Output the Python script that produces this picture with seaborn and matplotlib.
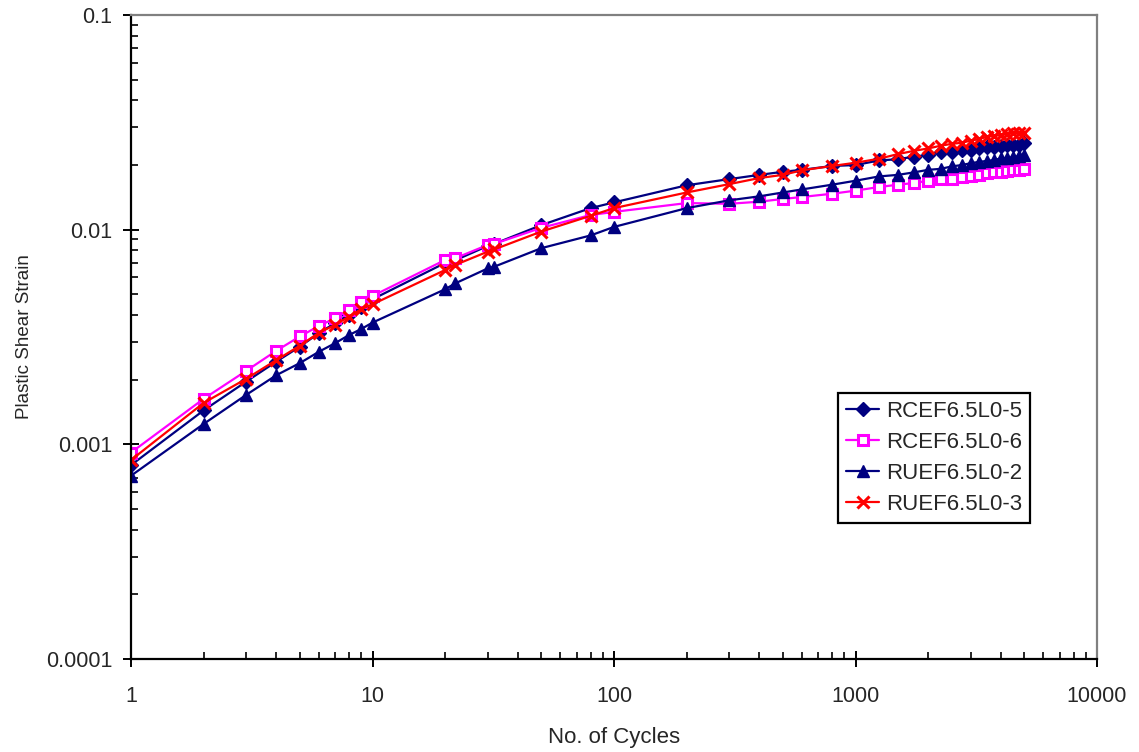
import matplotlib
matplotlib.use("Agg")
import matplotlib.pyplot as plt
import matplotlib.ticker as mticker
import numpy as np
import pandas as pd
import seaborn as sns

# ---------------- data ----------------
cycles = [1, 2, 3, 4, 5, 6, 7, 8, 9, 10, 20, 22, 30, 32, 50, 80, 100, 200, 300,
          400, 500, 600, 800, 1000, 1250, 1500, 1750, 2000, 2250, 2500, 2750,
          3000, 3250, 3500, 3750, 4000, 4250, 4500, 4750, 5000]

rcef_5 = [0.00080, 0.00144, 0.00196, 0.00243, 0.00285, 0.00330, 0.00367, 0.00402,
          0.00438, 0.00474, 0.00700, 0.00720, 0.00840, 0.00860, 0.01050, 0.01260,
          0.01340, 0.01610, 0.01720, 0.01800, 0.01860, 0.01900, 0.01980, 0.02000,
          0.02100, 0.02130, 0.02190, 0.02230, 0.02290, 0.02310, 0.02350, 0.02360,
          0.02390, 0.02420, 0.02440, 0.02450, 0.02470, 0.02480, 0.02490, 0.02520]

rcef_6 = [0.000915, 0.00163, 0.00220, 0.00273, 0.00318, 0.00356, 0.00387, 0.00423,
          0.00459, 0.00491, 0.00723, 0.00736, 0.00849, 0.00860, 0.01020, 0.01170,
          0.01210, 0.01330, 0.01320, 0.01350, 0.01390, 0.01420, 0.01470, 0.01520,
          0.01580, 0.01620, 0.01650, 0.01690, 0.01720, 0.01720, 0.01750, 0.01780,
          0.01800, 0.01830, 0.01850, 0.01860, 0.01880, 0.01890, 0.01900, 0.01920]

ruef_2 = [0.000714, 0.001245, 0.00170, 0.00210, 0.00239, 0.00270, 0.00296, 0.00323,
          0.00345, 0.00369, 0.00528, 0.00562, 0.00660, 0.00673, 0.00820, 0.00940,
          0.01030, 0.01260, 0.01370, 0.01430, 0.01490, 0.01540, 0.01620, 0.01690,
          0.01770, 0.01800, 0.01850, 0.01900, 0.01920, 0.01970, 0.02000, 0.02040,
          0.02070, 0.02090, 0.02110, 0.02150, 0.02150, 0.02180, 0.02200, 0.02230]

ruef_3 = [0.000845, 0.00156, 0.00202, 0.00247, 0.00288, 0.00331, 0.00360, 0.00394,
          0.00427, 0.00449, 0.00649, 0.00685, 0.00790, 0.00810, 0.00980, 0.01160,
          0.01260, 0.01490, 0.01630, 0.01740, 0.01800, 0.01890, 0.01980, 0.02050,
          0.02140, 0.02250, 0.02330, 0.02390, 0.02460, 0.02510, 0.02540, 0.02600,
          0.02640, 0.02710, 0.02730, 0.02760, 0.02790, 0.02810, 0.02820, 0.02830]

series_names = ["RCEF6.5L0-5", "RCEF6.5L0-6", "RUEF6.5L0-2", "RUEF6.5L0-3"]
series_values = [rcef_5, rcef_6, ruef_2, ruef_3]

x_ticks = [1, 10, 100, 1000, 10000]
x_tick_labels = ["1", "10", "100", "1000", "10000"]
y_ticks = [0.0001, 0.001, 0.01, 0.1]
y_tick_labels = ["0.0001", "0.001", "0.01", "0.1"]

# ---------------- styling ----------------
colors = ["#000080", "#FF00FF", "#000080", "#FF0000"]
markers = ["D", "s", "^", "x"]
msizes = [7.0, 7.5, 8.5, 8.5]
mfaces = ["#000080", "white", "#000080", "#FF0000"]
medges = [1.0, 2.2, 1.0, 2.2]

sns.set_style("ticks")
plt.rcParams["font.family"] = ["Liberation Sans", "DejaVu Sans"]

df = pd.DataFrame({
    "cycles": np.tile(cycles, len(series_names)),
    "strain": np.concatenate(series_values),
    "series": np.repeat(series_names, len(cycles)),
})

fig = plt.figure(figsize=(11.39, 7.52), dpi=100)
ax = fig.add_axes([131 / 1139, 1 - 659 / 752, (1097 - 131) / 1139, (659 - 15) / 752])

for name, c, m, ms, mf, me in zip(series_names, colors, markers, msizes, mfaces, medges):
    sub = df[df["series"] == name]
    sns.lineplot(data=sub, x="cycles", y="strain", ax=ax, color=c, marker=m,
                 markersize=ms, markerfacecolor=mf, markeredgecolor=c,
                 markeredgewidth=me, linewidth=1.6, estimator=None, sort=False,
                 label=name)

ax.set_xscale("log")
ax.set_yscale("log")
ax.set_xlim(1, 10000)
ax.set_ylim(0.0001, 0.1)

ax.xaxis.set_major_locator(mticker.FixedLocator(x_ticks))
ax.xaxis.set_major_formatter(mticker.FixedFormatter(x_tick_labels))
ax.yaxis.set_major_locator(mticker.FixedLocator(y_ticks))
ax.yaxis.set_major_formatter(mticker.FixedFormatter(y_tick_labels))
ax.xaxis.set_minor_locator(mticker.LogLocator(base=10, subs=np.arange(2, 10)))
ax.yaxis.set_minor_locator(mticker.LogLocator(base=10, subs=np.arange(2, 10)))
ax.xaxis.set_minor_formatter(mticker.NullFormatter())
ax.yaxis.set_minor_formatter(mticker.NullFormatter())

ax.tick_params(which="major", direction="inout", length=11, width=1.4,
               labelsize=15.5, color="black", pad=8)
ax.tick_params(which="minor", direction="in", length=5, width=1.2, color="black")
ax.tick_params(axis="x", which="major", pad=14)

for side in ("left", "bottom"):
    ax.spines[side].set_color("black")
    ax.spines[side].set_linewidth(1.6)
for side in ("top", "right"):
    ax.spines[side].set_color("#808080")
    ax.spines[side].set_linewidth(1.6)

ax.set_xlabel("No. of Cycles", fontsize=16, labelpad=14)
ax.set_ylabel("Plastic Shear Strain", fontsize=13.5, labelpad=9)

leg = ax.legend(loc="upper left", bbox_to_anchor=(0.732, 0.413), frameon=True,
                fancybox=False, shadow=False, fontsize=16, handlelength=1.5,
                handletextpad=0.3, labelspacing=0.45, borderpad=0.35,
                borderaxespad=0.0)
leg.get_frame().set_edgecolor("black")
leg.get_frame().set_linewidth(1.6)
leg.get_frame().set_alpha(1.0)

fig.savefig("out.png", dpi=100)
